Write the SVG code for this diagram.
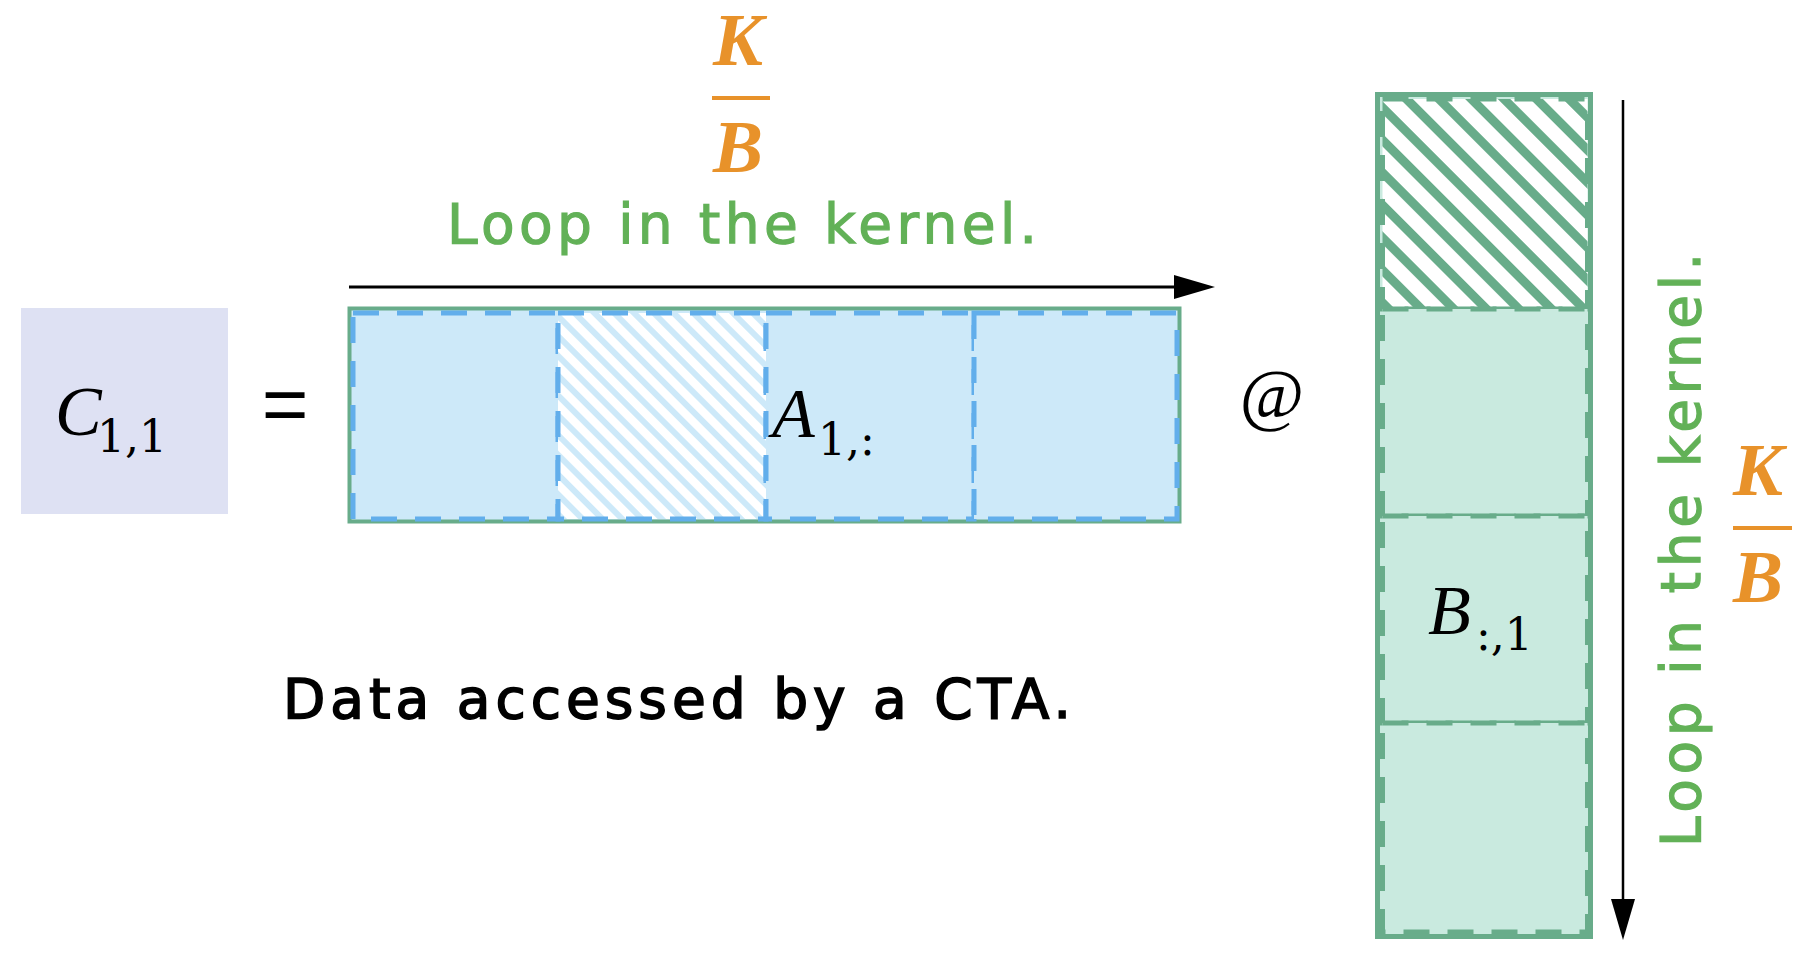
<svg xmlns="http://www.w3.org/2000/svg" width="1806" height="958" viewBox="0 0 1806 958">
<style>
.math{font-family:"Liberation Serif","DejaVu Serif",serif;font-style:italic;fill:#000}
.sub{font-family:"DejaVu Serif","Liberation Serif",serif;font-style:normal;fill:#000;font-size:44px}
.frac{font-family:"Liberation Serif","DejaVu Serif",serif;font-style:italic;font-weight:bold;fill:#E8922A;font-size:75px;text-anchor:middle}
.hand{font-family:"DejaVu Sans","Liberation Sans",sans-serif;font-size:55px}
.green{fill:#62B157;stroke:#62B157;stroke-width:1.2}
.black{fill:#000;stroke:#000;stroke-width:1.6}
.cellA{fill:#CDE9F9;stroke:#62AEEB;stroke-width:5;stroke-dasharray:26 18}
.cellB{fill:#C9EADF;stroke:#68AC8A;stroke-width:5;stroke-dasharray:26 18}
.conn{stroke:#000;fill:none}
</style>
<defs>
<pattern id="hatchA" patternUnits="userSpaceOnUse" width="14" height="14" patternTransform="rotate(-45)">
<rect width="14" height="14" fill="#fff"/><rect width="6" height="14" fill="#CDE9F9"/>
</pattern>
<pattern id="hatchB" patternUnits="userSpaceOnUse" width="23" height="23" patternTransform="rotate(-45)">
<rect width="23" height="23" fill="#fff"/><rect width="9" height="23" fill="#68AC8A"/>
</pattern>
<marker id="arrow" markerUnits="userSpaceOnUse" markerWidth="41" markerHeight="24" refX="2" refY="12" orient="auto">
<path d="M0,0 L41,12 L0,24 z" fill="#000"/>
</marker>
</defs>

<g id="node-C">
<rect x="21" y="308" width="207" height="206" fill="#DEE1F3"/>
<text class="math" x="55" y="435" font-size="70">C</text>
<text class="sub" x="97" y="452">1,1</text>
</g>

<g id="equals">
<text x="285" y="431" font-family="Liberation Sans, sans-serif" font-size="80" text-anchor="middle" fill="#000">=</text>
</g>

<g id="node-A">
<rect x="349.5" y="308.5" width="830" height="213" fill="#CDE9F9" stroke="#68AC8A" stroke-width="4"/>
<rect class="cellA" x="353" y="313" width="205" height="206"/>
<rect class="cellA" x="558" y="313" width="208" height="206" style="fill:url(#hatchA)"/>
<rect class="cellA" x="766" y="313" width="208" height="206"/>
<rect class="cellA" x="974" y="313" width="203" height="206"/>
<text class="math" x="772" y="437" font-size="70">A</text>
<text class="sub" x="818" y="455">1,:</text>
</g>

<g id="at">
<text x="1272" y="418" font-family="Liberation Serif, serif" font-size="70" text-anchor="middle" fill="#000">@</text>
</g>

<g id="node-B">
<rect x="1377.5" y="94.5" width="213" height="842" fill="#C9EADF" stroke="#68AC8A" stroke-width="5"/>
<rect class="cellB" x="1382.5" y="99" width="205" height="210" style="fill:url(#hatchB)"/>
<rect class="cellB" x="1382.5" y="309" width="205" height="207"/>
<rect class="cellB" x="1382.5" y="516" width="205" height="207"/>
<rect class="cellB" x="1382.5" y="723" width="205" height="209"/>
<text class="math" x="1428" y="634" font-size="70">B</text>
<text class="sub" x="1476" y="650">:,1</text>
</g>

<g id="label-top">
<text class="frac" x="738" y="65">K</text>
<rect x="712" y="96" width="58" height="4" fill="#E8922A"/>
<text class="frac" x="738" y="172">B</text>
<text class="hand green" x="447" y="243" textLength="590" lengthAdjust="spacing">Loop in the kernel.</text>
</g>

<g id="label-right">
<text class="frac" x="1758" y="495">K</text>
<rect x="1733" y="526" width="59" height="4" fill="#E8922A"/>
<text class="frac" x="1758" y="602">B</text>
<text class="hand green" transform="translate(1700,847) rotate(-90)" x="0" y="0" textLength="594" lengthAdjust="spacing">Loop in the kernel.</text>
</g>

<g id="label-data">
<text class="hand black" x="283" y="718" textLength="788" lengthAdjust="spacing">Data accessed by a CTA.</text>
</g>

<g id="connectors">
<line class="conn" x1="349" y1="287" x2="1176" y2="287" stroke-width="3" marker-end="url(#arrow)"/>
<line class="conn" x1="1623" y1="100" x2="1623" y2="901" stroke-width="2.5" marker-end="url(#arrow)"/>
</g>
</svg>
